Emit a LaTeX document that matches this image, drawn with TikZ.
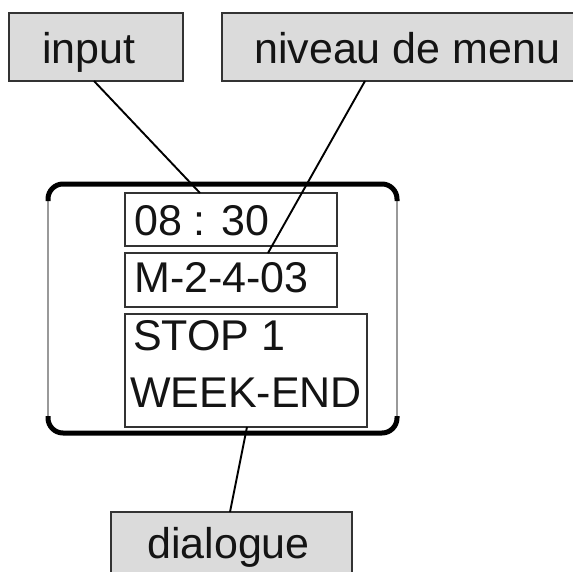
\documentclass[tikz,border=0pt]{standalone}
\usepackage{fontspec}
\setmainfont{Liberation Sans}
\usetikzlibrary{calc}
\begin{document}
\begin{tikzpicture}[x=1pt,y=-1pt,
 labelbox/.style={draw=black!80, line width=1.5pt, fill=black!14, inner sep=0pt, outer sep=0pt},
 screenbox/.style={draw=black!80, line width=1.5pt, inner sep=0pt, outer sep=0pt},
 bigtext/.style={font=\fontsize{43}{50}\selectfont, inner sep=0pt, anchor=base west, text=black!92},
 wire/.style={line width=1.9pt, black},
 rim/.style={line width=5pt, black, rounded corners=15pt},
 side/.style={line width=1.3pt, black!40}]

\useasboundingbox (0,0) rectangle (573,571);

% label boxes
\node[labelbox, minimum width=174pt, minimum height=68pt] (inbox) at (96,47) {};
\node[labelbox, minimum width=368pt, minimum height=68pt] (nivbox) at (406,47) {};
\node[labelbox, minimum width=241pt, minimum height=78pt] (dialbox) at (231.5,551) {};

\node[bigtext] (intext) at (42,63) {input};
\node[bigtext] (nivtext) at (254,63) {niveau de menu};
\node[bigtext] (dialtext) at (147,558) {dialogue};

% display frame
\draw[side] (48,200) -- (48,417);
\draw[side] (397,200) -- (397,417);
\draw[rim] (48,201) -- (48,184) -- (397,184) -- (397,201);
\draw[rim] (48,416) -- (48,433) -- (397,433) -- (397,416);

% screen fields
\node[screenbox, minimum width=212pt, minimum height=53pt] (timebox) at (231,219.5) {};
\node[screenbox, minimum width=212pt, minimum height=54pt] (menubox) at (231,280) {};
\node[screenbox, minimum width=242pt, minimum height=113pt] (stopbox) at (246,370.5) {};

\node[bigtext] (timetext) at (134,235) {08 : 30};
\node[bigtext] (menutext) at (134,292) {M-2-4-03};
\node[bigtext] (stoptext) at (133,350) {STOP 1};
\node[bigtext] (weektext) at (130,407) {WEEK-END};

% connectors
\draw[wire] ($(inbox.south west)+(85,0)$) -- ($(timebox.north west)+(75,0)$);
\draw[wire] ($(nivbox.south west)+(143,0)$) -- ($(menubox.north west)+(143,0)$);
\draw[wire] ($(stopbox.south west)+(122,0)$) -- ($(dialbox.north west)+(119,0)$);
\end{tikzpicture}
\end{document}
